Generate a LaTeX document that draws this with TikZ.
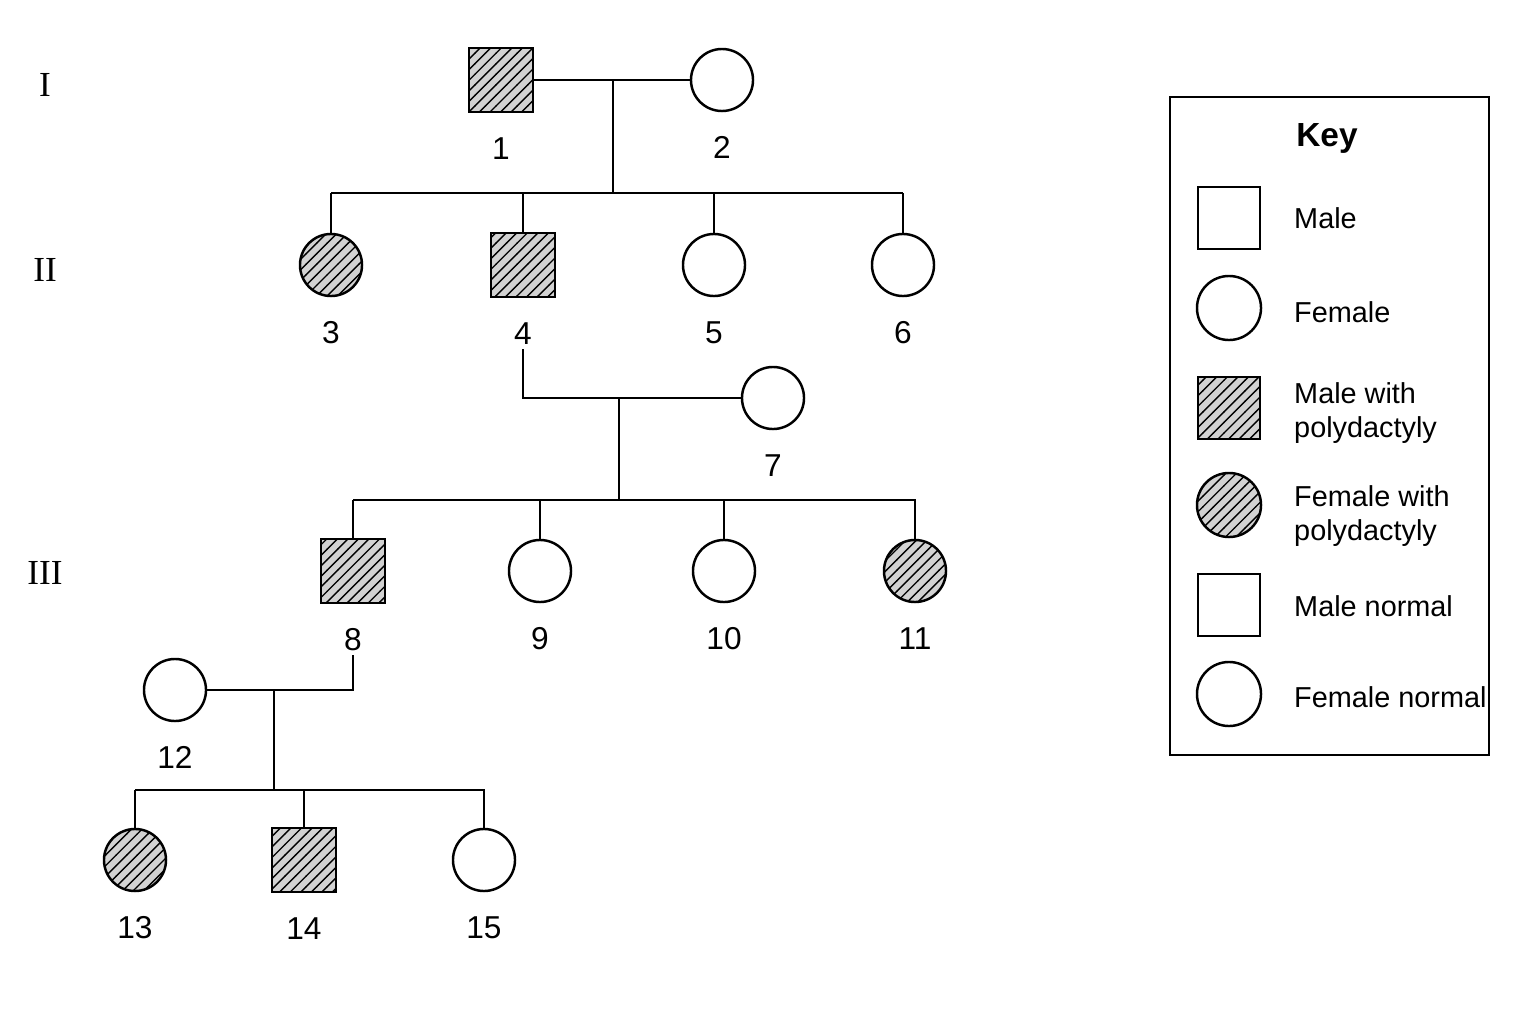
\documentclass[tikz,border=0pt]{standalone}
\usepackage{fontspec}
\setmainfont{Liberation Sans}
\newfontfamily\genfont{Liberation Serif}
\usetikzlibrary{patterns,positioning}

\begin{document}
\begin{tikzpicture}[x=0.01cm,y=-0.01cm,
  line width=0.7pt,
  male/.style={draw,rectangle,minimum size=0.64cm,inner sep=0pt},
  female/.style={draw,circle,minimum size=0.62cm,inner sep=0pt},
  keymale/.style={male,minimum size=0.62cm},
  keyfemale/.style={female,minimum size=0.64cm},
  aff/.style={preaction={fill=gray!35},pattern=north east lines},
  num/.style={font=\fontsize{9}{10}\selectfont,inner sep=1pt,text height=1.6ex,text depth=0pt},
  gen/.style={font=\genfont\fontsize{10}{12}\selectfont},
  keytxt/.style={font=\fontsize{8.2}{9.6}\selectfont,anchor=west,align=left,inner sep=0pt}]
\useasboundingbox (0,0) rectangle (1536,1024);
% Generation labels
\node[gen] (gI) at (45,85) {I};
\node[gen] (gII) at (45,270) {II};
\node[gen] (gIII) at (45,573) {III};
% Generation I
\node[male,aff] (p1) at (501,80) {};
\node[female] (p2) at (722,80) {};
% Generation II
\node[female,aff] (p3) at (331,265) {};
\node[male,aff] (p4) at (523,265) {};
\node[female] (p5) at (714,265) {};
\node[female] (p6) at (903,265) {};
\node[female] (p7) at (773,398) {};
% Generation III
\node[male,aff] (p8) at (353,571) {};
\node[female] (p9) at (540,571) {};
\node[female] (p10) at (724,571) {};
\node[female,aff] (p11) at (915,571) {};
\node[female] (p12) at (175,690) {};
% Generation IV
\node[female,aff] (p13) at (135,860) {};
\node[male,aff] (p14) at (304,860) {};
\node[female] (p15) at (484,860) {};
% Numbers
\foreach \n in {1,...,15}
  \node[num,below=0.12cm of p\n] (l\n) {\n};
% Couples and children
\draw (p1) -- (p2);
\coordinate (m1) at (613,80);
\coordinate (s1) at (613,193);
\draw (m1) -- (s1);
\draw (331,193) -- (903,193);
\foreach \c in {p3,p4,p5,p6}
  \draw (\c.north) -- (\c.north |- s1);
\coordinate (m2) at (619,398);
\coordinate (s2) at (619,500);
\draw (l4.south) -- (l4.south |- m2) -- (p7.west);
\draw (m2) -- (s2);
\draw (353,500) -- (916,500);
\foreach \c in {p8,p9,p10,p11}
  \draw (\c.north) -- (\c.north |- s2);
\coordinate (m3) at (274,690);
\coordinate (s3) at (274,790);
\draw (l8.south) -- (l8.south |- m3) -- (p12.east);
\draw (m3) -- (s3);
\draw (135,790) -- (485,790);
\foreach \c in {p13,p14,p15}
  \draw (\c.north) -- (\c.north |- s3);
% Key
\node[draw,minimum width=3.19cm,minimum height=6.58cm,inner sep=0pt] (key) at (1329.5,426) {};
\node[font=\bfseries\fontsize{9.5}{11}\selectfont] (keyt) at (1327,138) {Key};
\node[keymale] (k1) at (1229,218) {};
\node[keyfemale] (k2) at (1229,308) {};
\node[keymale,aff] (k3) at (1229,408) {};
\node[keyfemale,aff] (k4) at (1229,505) {};
\node[keymale] (k5) at (1229,605) {};
\node[keyfemale] (k6) at (1229,694) {};
\node[keytxt] at (1293,218) {Male};
\node[keytxt] at (1293,312) {Female};
\node[keytxt] at (1293,413) {Male with\\polydactyly};
\node[keytxt] at (1293,516) {Female with\\polydactyly};
\node[keytxt] at (1293,606) {Male normal};
\node[keytxt] at (1293,697) {Female normal};
\end{tikzpicture}
\end{document}
